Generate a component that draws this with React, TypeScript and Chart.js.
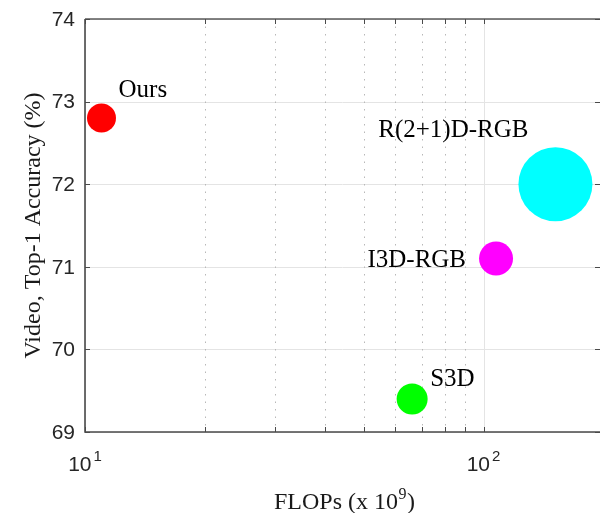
import React, { useEffect, useRef } from 'react';
import { Chart, registerables } from 'chart.js';

Chart.register(...registerables);

// ---- data ----
const models = ['Ours', 'R(2+1)D-RGB', 'I3D-RGB', 'S3D'];
const flops = [11.0, 151.5, 107.5, 66.2];
const accuracy = [72.8, 72.0, 71.1, 69.4];
const bubbleRadius = [14.5, 37, 17, 15.5];
const bubbleColors = ['#ff0000', '#00ffff', '#ff00ff', '#00ff00'];
const yTicks = [69, 70, 71, 72, 73, 74];
const xMajorTicks = [10, 100];
const xMajorExponents = ['1', '2'];
const xMinorTicks = [20, 30, 40, 50, 60, 70, 80, 90];
const xMin = 10;
const xMax = 196;
const yMin = 69;
const yMax = 74;
const xTitle = 'FLOPs (x 10';
const xTitleExp = '9';
const yTitle = 'Video, Top-1 Accuracy (%)';

// label placement relative to bubble centre (px)
const labelPlacement = [
  { dx: 17, dy: -21, align: 'left' },
  { dx: -27, dy: -47, align: 'right' },
  { dx: -30, dy: 8, align: 'right' },
  { dx: 18, dy: -13, align: 'left' },
];

const SERIF = '"Liberation Serif", "Times New Roman", serif';
const SANS = '"Liberation Sans", Arial, sans-serif';

const decor = {
  id: 'decor',
  beforeDatasetsDraw(chart: any) {
    const { ctx, chartArea: a, scales } = chart;
    const x = scales.x;
    const y = scales.y;
    ctx.save();
    ctx.lineWidth = 1;
    // y grid
    ctx.strokeStyle = '#e4e4e4';
    yTicks.forEach((v) => {
      const py = Math.round(y.getPixelForValue(v)) + 0.5;
      ctx.beginPath();
      ctx.moveTo(a.left, py);
      ctx.lineTo(a.right, py);
      ctx.stroke();
    });
    // x minor dotted grid
    ctx.strokeStyle = '#b8b8b8';
    ctx.setLineDash([1.5, 6]);
    xMinorTicks.forEach((v) => {
      const px = Math.round(x.getPixelForValue(v)) + 0.5;
      ctx.beginPath();
      ctx.moveTo(px, a.top);
      ctx.lineTo(px, a.bottom);
      ctx.stroke();
    });
    ctx.setLineDash([]);
    // x major grid
    ctx.strokeStyle = '#e4e4e4';
    xMajorTicks.forEach((v) => {
      const px = Math.round(x.getPixelForValue(v)) + 0.5;
      ctx.beginPath();
      ctx.moveTo(px, a.top);
      ctx.lineTo(px, a.bottom);
      ctx.stroke();
    });
    ctx.restore();
  },
  afterDatasetsDraw(chart: any) {
    const { ctx, chartArea: a, scales } = chart;
    const x = scales.x;
    const y = scales.y;
    ctx.save();
    // spines
    ctx.strokeStyle = '#4a4a4a';
    ctx.lineWidth = 1.6;
    ctx.beginPath();
    ctx.moveTo(a.left, a.top);
    ctx.lineTo(a.left, a.bottom);
    ctx.lineTo(a.right, a.bottom);
    ctx.stroke();
    ctx.lineWidth = 1.3;
    ctx.strokeStyle = '#5a5a5a';
    ctx.beginPath();
    ctx.moveTo(a.left, a.top);
    ctx.lineTo(a.right, a.top);
    ctx.stroke();

    // tick marks
    ctx.lineWidth = 1;
    ctx.strokeStyle = '#4a4a4a';
    const tickLen = 5;
    [...xMinorTicks, ...xMajorTicks].forEach((v) => {
      const px = Math.round(x.getPixelForValue(v)) + 0.5;
      ctx.beginPath();
      ctx.moveTo(px, a.bottom);
      ctx.lineTo(px, a.bottom - tickLen);
      ctx.moveTo(px, a.top);
      ctx.lineTo(px, a.top + tickLen);
      ctx.stroke();
    });
    yTicks.forEach((v) => {
      const py = Math.round(y.getPixelForValue(v)) + 0.5;
      ctx.beginPath();
      ctx.moveTo(a.left, py);
      ctx.lineTo(a.left + tickLen, py);
      ctx.moveTo(a.right, py);
      ctx.lineTo(a.right - tickLen, py);
      ctx.stroke();
    });

    // y tick labels
    ctx.fillStyle = '#262626';
    ctx.font = '21px ' + SANS;
    ctx.textAlign = 'right';
    ctx.textBaseline = 'middle';
    yTicks.forEach((v) => {
      ctx.fillText(String(v), a.left - 10, y.getPixelForValue(v) + 1);
    });

    // x tick labels with superscript exponent
    ctx.textBaseline = 'alphabetic';
    ctx.textAlign = 'left';
    xMajorTicks.forEach((v, i) => {
      const px = x.getPixelForValue(v);
      ctx.font = '21px ' + SANS;
      const wBase = ctx.measureText('10').width;
      ctx.font = '15px ' + SANS;
      const wExp = ctx.measureText(xMajorExponents[i]).width;
      const start = px - (wBase + 2 + wExp) / 2;
      ctx.font = '21px ' + SANS;
      ctx.fillText('10', start, a.bottom + 39);
      ctx.font = '15px ' + SANS;
      ctx.fillText(xMajorExponents[i], start + wBase + 2, a.bottom + 29);
    });

    // x title
    ctx.fillStyle = '#1a1a1a';
    ctx.font = '24px ' + SERIF;
    const w1 = ctx.measureText(xTitle).width;
    const w3 = ctx.measureText(')').width;
    ctx.font = '16px ' + SERIF;
    const w2 = ctx.measureText(xTitleExp).width;
    const total = w1 + w2 + 1 + w3;
    const cx = (a.left + a.right) / 2 + 2;
    let sx = cx - total / 2;
    const by = a.bottom + 77;
    ctx.font = '24px ' + SERIF;
    ctx.fillText(xTitle, sx, by);
    sx += w1;
    ctx.font = '16px ' + SERIF;
    ctx.fillText(xTitleExp, sx + 0.5, by - 10);
    sx += w2 + 1;
    ctx.font = '24px ' + SERIF;
    ctx.fillText(')', sx, by);

    // y title
    ctx.save();
    ctx.translate(40, (a.top + a.bottom) / 2);
    ctx.rotate(-Math.PI / 2);
    ctx.textAlign = 'center';
    ctx.textBaseline = 'alphabetic';
    ctx.font = '24px ' + SERIF;
    ctx.fillText(yTitle, 0, 0);
    ctx.restore();

    // bubble labels
    ctx.fillStyle = '#000000';
    ctx.font = '25px ' + SERIF;
    ctx.textBaseline = 'alphabetic';
    models.forEach((m, i) => {
      const px = x.getPixelForValue(flops[i]);
      const py = y.getPixelForValue(accuracy[i]);
      const p = labelPlacement[i];
      ctx.textAlign = p.align;
      ctx.fillText(m, px + p.dx, py + p.dy);
    });
    ctx.restore();
  },
};

export default function App() {
  const ref = useRef<HTMLCanvasElement>(null);
  useEffect(() => {
    if (!ref.current) return;
    const chart = new Chart(ref.current, {
      type: 'bubble',
      data: {
        datasets: models.map((m, i) => ({
          label: m,
          data: [{ x: flops[i], y: accuracy[i], r: bubbleRadius[i] }],
          backgroundColor: bubbleColors[i],
          borderColor: bubbleColors[i],
          borderWidth: 0,
          clip: false as any,
        })),
      },
      options: {
        responsive: false,
        animation: false,
        devicePixelRatio: 1,
        layout: { autoPadding: false, padding: { left: 85, top: 19, right: 0, bottom: 81 } },
        plugins: {
          legend: { display: false },
          tooltip: { enabled: false },
        },
        events: [],
        scales: {
          x: { type: 'logarithmic', min: xMin, max: xMax, display: false },
          y: { type: 'linear', min: yMin, max: yMax, display: false },
        },
      },
      plugins: [decor],
    });
    return () => chart.destroy();
  }, []);
  return (
    <div style={{ position: 'fixed', left: 0, top: 0, width: 600, height: 513, background: '#fff' }}>
      <canvas ref={ref} width={600} height={513} style={{ width: 600, height: 513, display: 'block' }} />
    </div>
  );
}
